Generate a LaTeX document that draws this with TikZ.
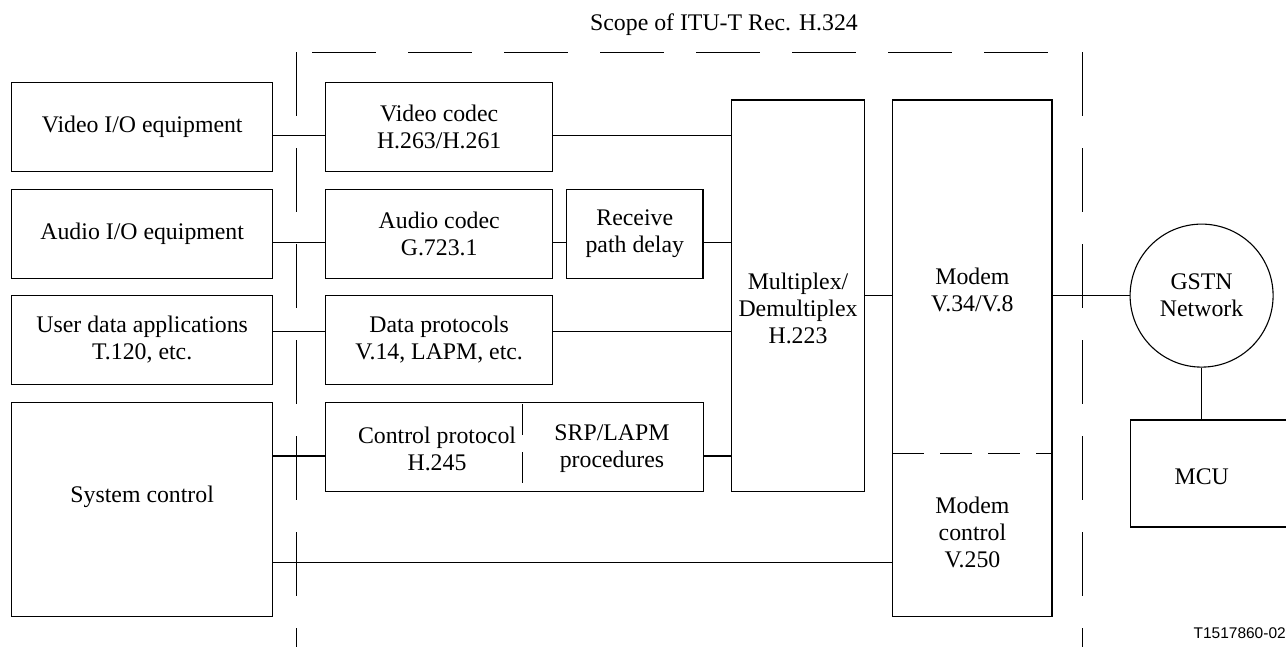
\documentclass[tikz,border=0pt]{standalone}
\usepackage{fontspec}
\setmainfont{Liberation Serif}
\newfontfamily\tagfont{Liberation Sans}
\newcommand\mainsz{\fontsize{23.8}{27}\selectfont}
\begin{document}
\begin{tikzpicture}[x=1pt,y=-1pt,line width=1.1pt,
  box/.style={draw,rectangle,inner sep=0pt,align=center,font=\mainsz},
  txt/.style={inner sep=0pt,align=center,font=\mainsz},
  scopeline/.style={line width=1pt,dash pattern=on 64pt off 32pt},
  divline/.style={line width=1pt,dash pattern=on 32pt off 16pt}]
\useasboundingbox (0,0) rectangle (1286,646);

% scope text and dashed boundary
\node[txt] (scopetxt) at (724,25) {Scope of ITU-T Rec. H.324};
\coordinate (tl) at (312,52.3);
\coordinate (tr) at (1049,52.3);
\coordinate (lt) at (296.4,52.3);
\coordinate (lb) at (296.4,660);
\coordinate (rt) at (1082.5,52.3);
\coordinate (rb) at (1082.5,660);
\draw[scopeline] (tl) -- (tr);
\draw[scopeline] (lt) -- (lb);
\draw[scopeline] (rt) -- (rb);

% left column
\node[box,minimum width=261pt,minimum height=89pt] (vio) at (142.2,126.8) {Video I/O equipment};
\node[box,minimum width=261pt,minimum height=88.7pt] (aio) at (142.2,233.7) {Audio I/O equipment};
\node[box,minimum width=261pt,minimum height=88.6pt] (udata) at (142.2,340) {User data applications\\T.120, etc.};
\node[box,minimum width=261pt,minimum height=214pt] (sysc) at (142.2,509.3) {};
\node[txt] (sysctxt) at (142.2,496.7) {System control};

% middle column
\node[box,minimum width=226.7pt,minimum height=89pt] (vcodec) at (439.2,126.8) {Video codec\\H.263/H.261};
\node[box,minimum width=226.7pt,minimum height=88.7pt] (acodec) at (439.2,233.7) {Audio codec\\G.723.1};
\node[box,minimum width=136.4pt,minimum height=88.7pt] (delay) at (634.8,233.7) {Receive\\path delay};
\node[box,minimum width=226.7pt,minimum height=88.6pt] (dprot) at (439.2,340) {Data protocols\\V.14, LAPM, etc.};
\node[box,minimum width=378.1pt,minimum height=89pt] (ctrl) at (514.85,446.8) {};
\node[txt] (ctrltxt) at (437,449) {Control protocol\\H.245};
\node[txt] (srptxt) at (612,449) {SRP/LAPM\\procedures};
\coordinate (d1) at (522.3,404.3);
\coordinate (d2) at (522.3,435);
\coordinate (d3) at (522.3,452.3);
\coordinate (d4) at (522.3,483.3);
\draw[line width=1pt] (d1) -- (d2) (d3) -- (d4);

% multiplex
\node[box,minimum width=133pt,minimum height=391.3pt] (mux) at (798,295.65) {};
\node[txt] (muxtxt) at (798,308.4) {Multiplex/\\Demultiplex\\H.223};

% modem
\node[box,minimum width=159.3pt,minimum height=516.3pt] (modem) at (972.35,358.15) {};
\node[txt] (modemtxt) at (972.4,289.5) {Modem\\V.34/V.8};
\node[txt] (modemctl) at (972.4,532.7) {Modem\\control\\V.250};
\draw[divline] ([yshift=-95.15pt]modem.west) -- ([yshift=-95.15pt]modem.east);

% network side
\node[draw,circle,minimum size=143pt,inner sep=0pt,align=center,font=\mainsz] (gstn) at (1201.6,295.6) {GSTN\\Network};
\node[box,minimum width=169.3pt,minimum height=107pt] (mcu) at (1215.35,473.5) {};
\node[txt] (mcutxt) at (1201.7,476.7) {MCU};
\node[inner sep=0pt,anchor=west,font=\tagfont\fontsize{15.5}{18}\selectfont] (tag) at (1193,633) {T1517860-02};

% connectors
\draw ([yshift=-8.9pt]vio.east) -- ([yshift=-8.9pt]vio.east -| vcodec.west);
\draw ([yshift=-8.9pt]vcodec.east) -- ([yshift=-8.9pt]vcodec.east -| mux.west);
\draw ([yshift=-8.6pt]aio.east) -- ([yshift=-8.6pt]aio.east -| acodec.west);
\draw ([yshift=-8.6pt]acodec.east) -- ([yshift=-8.6pt]acodec.east -| delay.west);
\draw ([yshift=-8.6pt]delay.east) -- ([yshift=-8.6pt]delay.east -| mux.west);
\draw ([yshift=8.3pt]udata.east) -- ([yshift=8.3pt]udata.east -| dprot.west);
\draw ([yshift=8.3pt]dprot.east) -- ([yshift=8.3pt]dprot.east -| mux.west);
\draw ([yshift=-9.2pt]ctrl.west -| sysc.east) -- ([yshift=-9.2pt]ctrl.west);
\draw ([yshift=-9.2pt]ctrl.east) -- ([yshift=-9.2pt]ctrl.east -| mux.west);
\draw ([yshift=-53.4pt]sysc.east) -- ([yshift=-53.4pt]sysc.east -| modem.west);
\draw (mux.east) -- (mux.east -| modem.west);
\draw (gstn.west -| modem.east) -- (gstn.west);
\draw (gstn.south) -- (gstn.south |- mcu.north);
\end{tikzpicture}
\end{document}
